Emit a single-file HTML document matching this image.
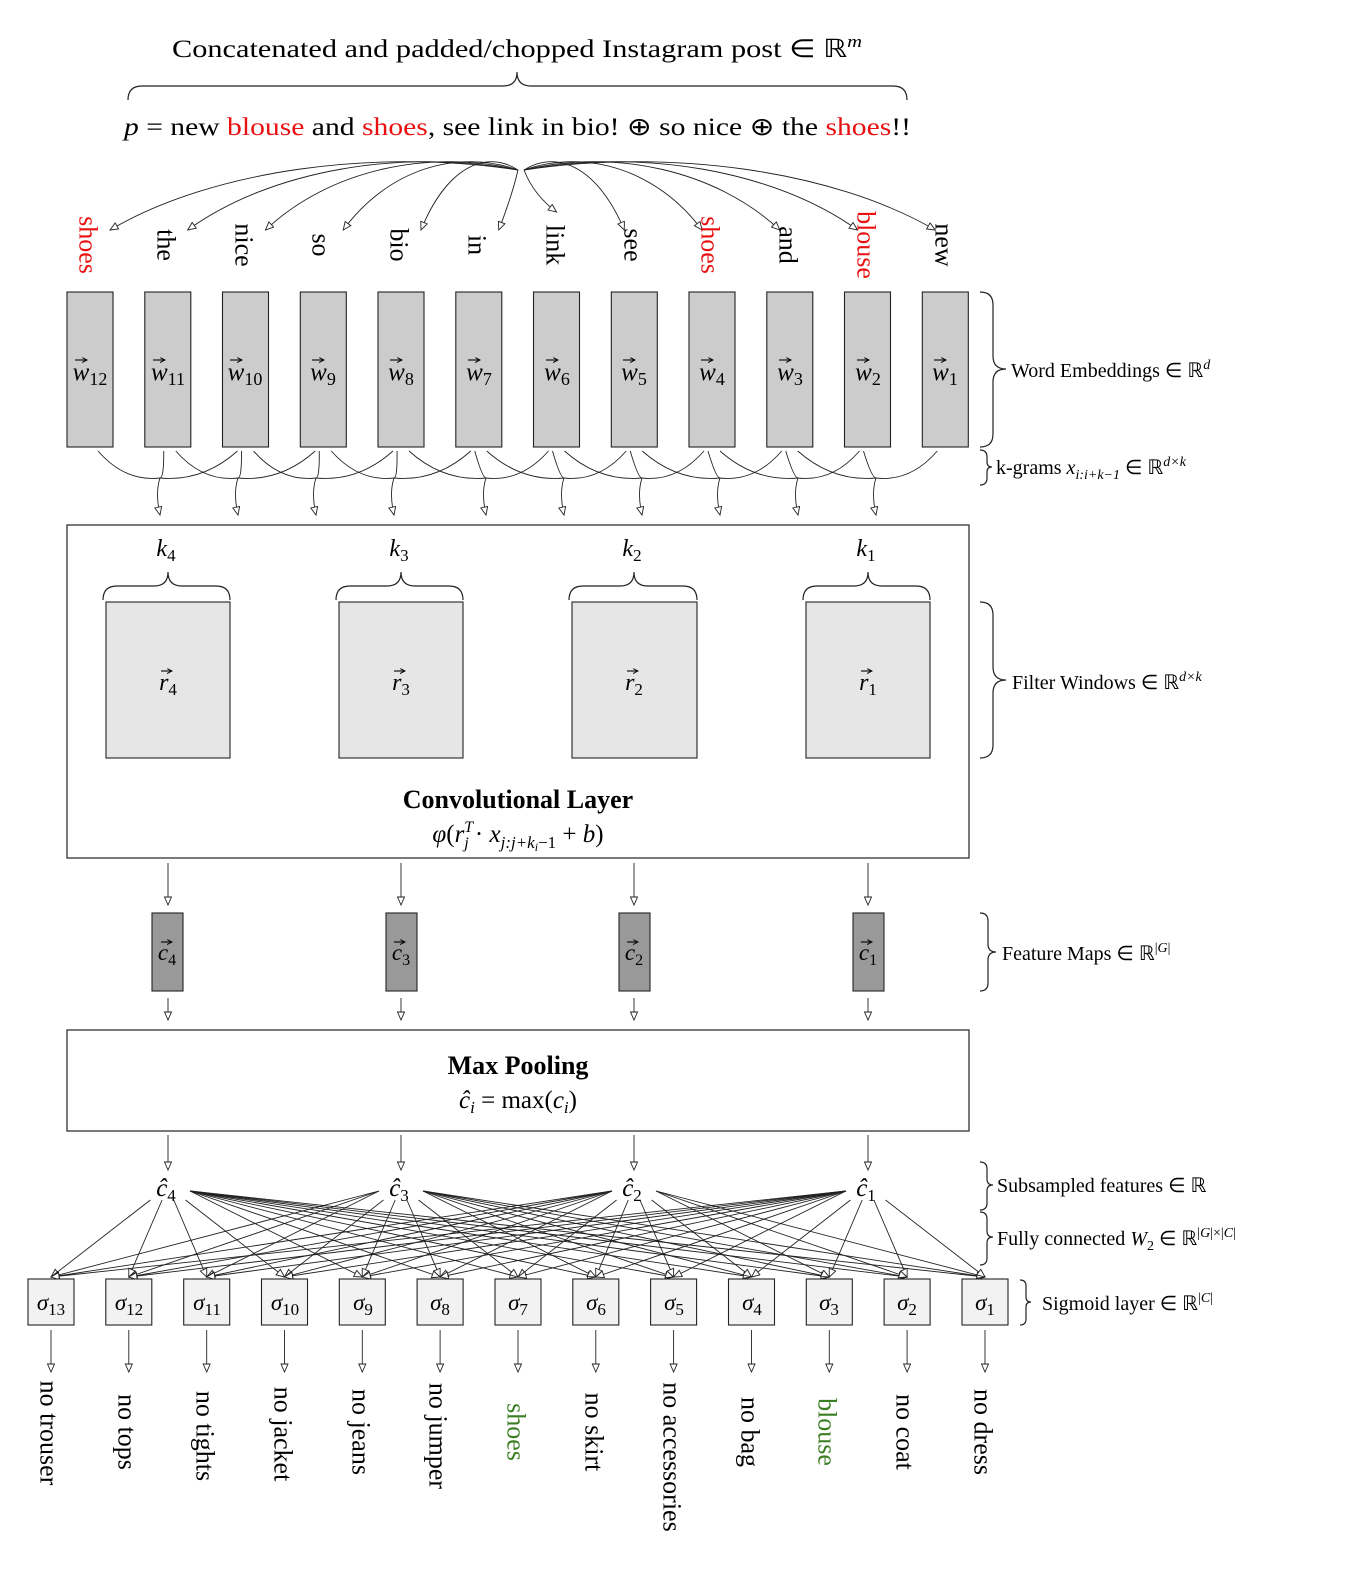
<!DOCTYPE html>
<html><head><meta charset="utf-8"><style>
html,body{margin:0;padding:0;background:#fff;overflow:hidden;width:1368px;height:1587px;}
svg{display:block;font-family:"Liberation Serif",serif;}
.it{font-style:italic}
</style></head><body>
<svg id="s" width="1368" height="1587" viewBox="0 0 1368 1587" xmlns="http://www.w3.org/2000/svg">
<defs>
<marker id="ar" markerWidth="10" markerHeight="10" refX="9" refY="4" orient="auto" markerUnits="userSpaceOnUse">
<path d="M1,0.5 L9,4 L1,7.5 Z" fill="#fff" stroke="#222" stroke-width="0.9"/>
</marker>
<marker id="va" markerWidth="6" markerHeight="6" refX="4" refY="2.5" orient="auto" markerUnits="userSpaceOnUse">
<path d="M0,0 L5,2.5 L0,5" fill="none" stroke="#000" stroke-width="1"/>
</marker>
</defs>
<g id="lines" fill="none" stroke="#222" stroke-width="0.9"></g>

<!-- top -->
<text x="517" y="57" font-size="25" text-anchor="middle" textLength="690" lengthAdjust="spacingAndGlyphs">Concatenated and padded/chopped Instagram post ∈ ℝ<tspan class="it" font-size="17" dy="-10">m</tspan></text>
<path d="M128,100 Q128,86 142,86 L503,86 Q517,86 517,72 Q517,86 531,86 L893,86 Q907,86 907,100" fill="none" stroke="#222" stroke-width="1.2"/>
<text x="124" y="135" font-size="25" textLength="787" lengthAdjust="spacingAndGlyphs"><tspan class="it">p</tspan> = new <tspan fill="#e81010">blouse</tspan> and <tspan fill="#e81010">shoes</tspan>, see link in bio! ⊕ so nice ⊕ the <tspan fill="#e81010">shoes</tspan>!!</text>

<!-- word labels -->
<g font-size="26" text-anchor="middle" dominant-baseline="central">
<text transform="translate(88,245) rotate(90)" fill="#e81010">shoes</text>
<text transform="translate(166,245) rotate(90)">the</text>
<text transform="translate(244,245) rotate(90)">nice</text>
<text transform="translate(321,245) rotate(90)">so</text>
<text transform="translate(399,245) rotate(90)">bio</text>
<text transform="translate(477,245) rotate(90)">in</text>
<text transform="translate(555,245) rotate(90)">link</text>
<text transform="translate(633,245) rotate(90)">see</text>
<text transform="translate(710,245) rotate(90)" fill="#e81010">shoes</text>
<text transform="translate(788,245) rotate(90)">and</text>
<text transform="translate(866,245) rotate(90)" fill="#e81010">blouse</text>
<text transform="translate(944,245) rotate(90)">new</text>
</g>

<!-- word boxes -->
<g id="wb" fill="#cccccc" stroke="#222" stroke-width="1.1"></g>
<g font-size="25" text-anchor="middle">
<text x="90" y="380"><tspan class="it">w</tspan><tspan font-size="18" dy="5">12</tspan></text>
<text x="168" y="380"><tspan class="it">w</tspan><tspan font-size="18" dy="5">11</tspan></text>
<text x="245" y="380"><tspan class="it">w</tspan><tspan font-size="18" dy="5">10</tspan></text>
<text x="323" y="380"><tspan class="it">w</tspan><tspan font-size="18" dy="5">9</tspan></text>
<text x="401" y="380"><tspan class="it">w</tspan><tspan font-size="18" dy="5">8</tspan></text>
<text x="479" y="380"><tspan class="it">w</tspan><tspan font-size="18" dy="5">7</tspan></text>
<text x="557" y="380"><tspan class="it">w</tspan><tspan font-size="18" dy="5">6</tspan></text>
<text x="634" y="380"><tspan class="it">w</tspan><tspan font-size="18" dy="5">5</tspan></text>
<text x="712" y="380"><tspan class="it">w</tspan><tspan font-size="18" dy="5">4</tspan></text>
<text x="790" y="380"><tspan class="it">w</tspan><tspan font-size="18" dy="5">3</tspan></text>
<text x="868" y="380"><tspan class="it">w</tspan><tspan font-size="18" dy="5">2</tspan></text>
<text x="945" y="380"><tspan class="it">w</tspan><tspan font-size="18" dy="5">1</tspan></text>
</g>

<!-- conv layer -->
<rect x="67" y="525" width="902" height="333" fill="#fff" stroke="#222" stroke-width="1.2"/>
<g fill="#e6e6e6" stroke="#222" stroke-width="1.1">
<rect x="106" y="602" width="124" height="156"/>
<rect x="339" y="602" width="124" height="156"/>
<rect x="572" y="602" width="125" height="156"/>
<rect x="806" y="602" width="124" height="156"/>
</g>
<g fill="none" stroke="#222" stroke-width="1.2">
<path d="M103,600 Q103,586 117,586 L154,586 Q168,586 168,572 Q168,586 182,586 L216,586 Q230,586 230,600"/>
<path d="M336,600 Q336,586 350,586 L387,586 Q401,586 401,572 Q401,586 415,586 L449,586 Q463,586 463,600"/>
<path d="M569,600 Q569,586 583,586 L620,586 Q634,586 634,572 Q634,586 648,586 L683,586 Q697,586 697,600"/>
<path d="M803,600 Q803,586 817,586 L854,586 Q868,586 868,572 Q868,586 882,586 L916,586 Q930,586 930,600"/>
</g>
<g font-size="24" text-anchor="middle">
<text x="166" y="556"><tspan class="it">k</tspan><tspan font-size="17" dy="5">4</tspan></text>
<text x="399" y="556"><tspan class="it">k</tspan><tspan font-size="17" dy="5">3</tspan></text>
<text x="632" y="556"><tspan class="it">k</tspan><tspan font-size="17" dy="5">2</tspan></text>
<text x="866" y="556"><tspan class="it">k</tspan><tspan font-size="17" dy="5">1</tspan></text>
<text x="168" y="690"><tspan class="it">r</tspan><tspan font-size="17" dy="5">4</tspan></text>
<text x="401" y="690"><tspan class="it">r</tspan><tspan font-size="17" dy="5">3</tspan></text>
<text x="634" y="690"><tspan class="it">r</tspan><tspan font-size="17" dy="5">2</tspan></text>
<text x="868" y="690"><tspan class="it">r</tspan><tspan font-size="17" dy="5">1</tspan></text>
</g>
<text x="518" y="808" font-size="26" font-weight="bold" text-anchor="middle">Convolutional Layer</text>
<text x="518" y="842" font-size="25" text-anchor="middle"><tspan class="it">φ</tspan>(<tspan class="it">r</tspan><tspan font-size="16" class="it" dy="-10">T</tspan><tspan font-size="16" class="it" dx="-9" dy="16">j</tspan><tspan dy="-6"> · </tspan><tspan class="it">x</tspan><tspan font-size="17" class="it" dy="6">j:j+k</tspan><tspan font-size="12" class="it" dy="3">i</tspan><tspan font-size="17" dy="-3">−1</tspan><tspan dy="-6"> + </tspan><tspan class="it">b</tspan>)</text>

<!-- feature maps -->
<g fill="#999" stroke="#222" stroke-width="1.1">
<rect x="152" y="913" width="31" height="78"/>
<rect x="386" y="913" width="31" height="78"/>
<rect x="619" y="913" width="31" height="78"/>
<rect x="853" y="913" width="31" height="78"/>
</g>
<g font-size="23" text-anchor="middle">
<text x="167" y="960"><tspan class="it">c</tspan><tspan font-size="16" dy="5">4</tspan></text>
<text x="401" y="960"><tspan class="it">c</tspan><tspan font-size="16" dy="5">3</tspan></text>
<text x="634" y="960"><tspan class="it">c</tspan><tspan font-size="16" dy="5">2</tspan></text>
<text x="868" y="960"><tspan class="it">c</tspan><tspan font-size="16" dy="5">1</tspan></text>
</g>

<!-- max pooling -->
<rect x="67" y="1030" width="902" height="101" fill="#fff" stroke="#222" stroke-width="1.2"/>
<text x="518" y="1074" font-size="26" font-weight="bold" text-anchor="middle">Max Pooling</text>
<text x="518" y="1108" font-size="25" text-anchor="middle"><tspan class="it">ĉ</tspan><tspan class="it" font-size="17" dy="5">i</tspan><tspan dy="-5"> = max(</tspan><tspan class="it">c</tspan><tspan class="it" font-size="17" dy="5">i</tspan><tspan dy="-5">)</tspan></text>

<g font-size="25" text-anchor="middle">
<text x="166" y="1196"><tspan class="it">ĉ</tspan><tspan font-size="17" dy="5">4</tspan></text>
<text x="399" y="1196"><tspan class="it">ĉ</tspan><tspan font-size="17" dy="5">3</tspan></text>
<text x="632" y="1196"><tspan class="it">ĉ</tspan><tspan font-size="17" dy="5">2</tspan></text>
<text x="866" y="1196"><tspan class="it">ĉ</tspan><tspan font-size="17" dy="5">1</tspan></text>
</g>

<!-- sigmoid boxes -->
<g id="sb" fill="#f2f2f2" stroke="#222" stroke-width="1.1"></g>
<g font-size="23" text-anchor="middle">
<text x="51" y="1310"><tspan class="it">σ</tspan><tspan font-size="17" dy="5">13</tspan></text>
<text x="129" y="1310"><tspan class="it">σ</tspan><tspan font-size="17" dy="5">12</tspan></text>
<text x="207" y="1310"><tspan class="it">σ</tspan><tspan font-size="17" dy="5">11</tspan></text>
<text x="285" y="1310"><tspan class="it">σ</tspan><tspan font-size="17" dy="5">10</tspan></text>
<text x="363" y="1310"><tspan class="it">σ</tspan><tspan font-size="17" dy="5">9</tspan></text>
<text x="440" y="1310"><tspan class="it">σ</tspan><tspan font-size="17" dy="5">8</tspan></text>
<text x="518" y="1310"><tspan class="it">σ</tspan><tspan font-size="17" dy="5">7</tspan></text>
<text x="596" y="1310"><tspan class="it">σ</tspan><tspan font-size="17" dy="5">6</tspan></text>
<text x="674" y="1310"><tspan class="it">σ</tspan><tspan font-size="17" dy="5">5</tspan></text>
<text x="752" y="1310"><tspan class="it">σ</tspan><tspan font-size="17" dy="5">4</tspan></text>
<text x="829" y="1310"><tspan class="it">σ</tspan><tspan font-size="17" dy="5">3</tspan></text>
<text x="907" y="1310"><tspan class="it">σ</tspan><tspan font-size="17" dy="5">2</tspan></text>
<text x="985" y="1310"><tspan class="it">σ</tspan><tspan font-size="17" dy="5">1</tspan></text>
</g>

<!-- bottom labels -->
<g font-size="26" text-anchor="middle" dominant-baseline="central">
<text transform="translate(49,1433) rotate(90)">no trouser</text>
<text transform="translate(127,1432) rotate(90)">no tops</text>
<text transform="translate(205,1436) rotate(90)">no tights</text>
<text transform="translate(283,1434) rotate(90)">no jacket</text>
<text transform="translate(361,1432) rotate(90)">no jeans</text>
<text transform="translate(438,1436) rotate(90)">no jumper</text>
<text transform="translate(516,1432) rotate(90)" fill="#3a7d22">shoes</text>
<text transform="translate(594,1432) rotate(90)">no skirt</text>
<text transform="translate(672,1457) rotate(90)">no accessories</text>
<text transform="translate(750,1432) rotate(90)">no bag</text>
<text transform="translate(827,1432) rotate(90)" fill="#3a7d22">blouse</text>
<text transform="translate(905,1432) rotate(90)">no coat</text>
<text transform="translate(983,1432) rotate(90)">no dress</text>
</g>

<!-- right braces -->
<g fill="none" stroke="#222" stroke-width="1.2">
<path d="M980,292 Q993,292 993,305 L993,356 Q993,369 1006,369 Q993,369 993,382 L993,434 Q993,447 980,447"/>
<path d="M980,450 Q987,450 987,457 L987,462 Q987,467 992,467 Q987,467 987,472 L987,478 Q987,485 980,485"/>
<path d="M980,602 Q993,602 993,615 L993,667 Q993,680 1006,680 Q993,680 993,693 L993,745 Q993,758 980,758"/>
<path d="M980,913 Q988,913 988,921 L988,944 Q988,952 996,952 Q988,952 988,960 L988,983 Q988,991 980,991"/>
<path d="M980,1162 Q987,1162 987,1169 L987,1179 Q987,1185 993,1185 Q987,1185 987,1191 L987,1203 Q987,1210 980,1210"/>
<path d="M980,1212 Q987,1212 987,1219 L987,1231 Q987,1237 993,1237 Q987,1237 987,1243 L987,1258 Q987,1265 980,1265"/>
<path d="M1020,1280 Q1026,1280 1026,1286 L1026,1297 Q1026,1302 1031,1302 Q1026,1302 1026,1307 L1026,1319 Q1026,1325 1020,1325"/>
</g>
<g font-size="20">
<text x="1011" y="377">Word Embeddings ∈ ℝ<tspan class="it" font-size="14" dy="-8">d</tspan></text>
<text x="996" y="474">k-grams <tspan class="it">x</tspan><tspan class="it" font-size="14" dy="5">i:i+k−1</tspan><tspan dy="-5"> ∈ ℝ</tspan><tspan class="it" font-size="14" dy="-8">d×k</tspan></text>
<text x="1012" y="689">Filter Windows ∈ ℝ<tspan class="it" font-size="14" dy="-8">d×k</tspan></text>
<text x="1002" y="960">Feature Maps ∈ ℝ<tspan font-size="14" dy="-8">|<tspan class="it">G</tspan>|</tspan></text>
<text x="997" y="1192">Subsampled features ∈ ℝ</text>
<text x="997" y="1245">Fully connected <tspan class="it">W</tspan><tspan font-size="14" dy="5">2</tspan><tspan dy="-5"> ∈ ℝ</tspan><tspan font-size="14" dy="-8">|<tspan class="it">G</tspan>|×|<tspan class="it">C</tspan>|</tspan></text>
<text x="1042" y="1310">Sigmoid layer ∈ ℝ<tspan font-size="14" dy="-8">|<tspan class="it">C</tspan>|</tspan></text>
</g>
<g id="vec" fill="none" stroke="#000" stroke-width="1.1"></g>
</svg>
<script>
(function(){
var NS="http://www.w3.org/2000/svg";
var L=document.getElementById("lines"),WB=document.getElementById("wb"),SB=document.getElementById("sb"),V=document.getElementById("vec");
function el(p,tag,a){var e=document.createElementNS(NS,tag);for(var k in a)e.setAttribute(k,a[k]);p.appendChild(e);return e;}
function path(d,arrow){var a={d:d};if(arrow)a["marker-end"]="url(#ar)";el(L,"path",a);}
function vec(x1,x2,y){el(V,"path",{d:"M"+x1+","+y+" L"+x2+","+y,"marker-end":"url(#va)"});}
var cx=[];for(var i=0;i<12;i++){cx.push(90+i*77.75);el(WB,"rect",{x:(90+i*77.75-23).toFixed(1),y:292,width:46,height:155});}
// vector arrows over w
var wc=[90,168,245,323,401,479,557,634,712,790,868,945];
wc.forEach(function(x,i){var off=(i<3)?-9:-5;vec(x+off-6,x+off+5,360);});
[168,401,634,868].forEach(function(x){vec(x-7,x+3,671);vec(x-7,x+3,942);});
// top arrows
for(var i=0;i<12;i++){
  var tx,ty=230,sx,sy=170;
  if(i<6){tx=cx[i]+20;sx=518;}else if(i==6){tx=cx[i];ty=212;sx=524;}else{tx=cx[i]-10;sx=524;}
  var d=Math.abs(sx-tx);var dir=tx<sx?-1:1;
  if(d<60){path("M"+sx+","+sy+" Q"+(sx+dir*d*0.3)+","+(sy+25)+" "+tx+","+ty,true);}
  else path("M"+sx+","+sy+" C"+(sx+dir*d*0.35)+","+(sy-22)+" "+(tx-dir*d*0.25)+","+(ty-60)+" "+tx+","+ty,true);
}
// k-grams
var mx=[160,238,316,394,486,564,642,720,798,876];
for(var k=0;k<10;k++){
  var m=mx[k],y0=451,ym=478;
  path("M"+(cx[k]+8)+","+y0+" Q"+((cx[k]+m)/2)+","+(ym+4)+" "+m+","+ym);
  path("M"+(cx[k+1]-4)+","+y0+" Q"+((cx[k+1]+m)/2)+","+(ym)+" "+m+","+ym);
  path("M"+(cx[k+2]-8)+","+y0+" Q"+((cx[k+2]+m)/2)+","+(ym+4)+" "+m+","+ym);
  path("M"+m+","+ym+" Q"+(m-5)+","+(ym+15)+" "+m+",515",true);
}
var fc=[168,401,634,868];
fc.forEach(function(x){
  path("M"+x+",863 L"+x+",905",true);
  path("M"+x+",998 L"+x+",1020",true);
  path("M"+x+",1135 L"+x+",1170",true);
});
var sc=[];for(var j=0;j<13;j++){var s=51+j*77.83;sc.push(s);el(SB,"rect",{x:(s-23).toFixed(1),y:1279,width:46,height:46});}
fc.forEach(function(x){
  sc.forEach(function(s){
    var dx=s-x,off=Math.max(-22,Math.min(22,dx*0.15));
    var sy=Math.abs(dx)>120?1191:1200;
    path("M"+(x+off).toFixed(1)+","+sy+" L"+s.toFixed(1)+",1277",true);
  });
});
sc.forEach(function(s){path("M"+s.toFixed(1)+",1330 L"+s.toFixed(1)+",1372",true);});
})();
</script>
</body></html>
